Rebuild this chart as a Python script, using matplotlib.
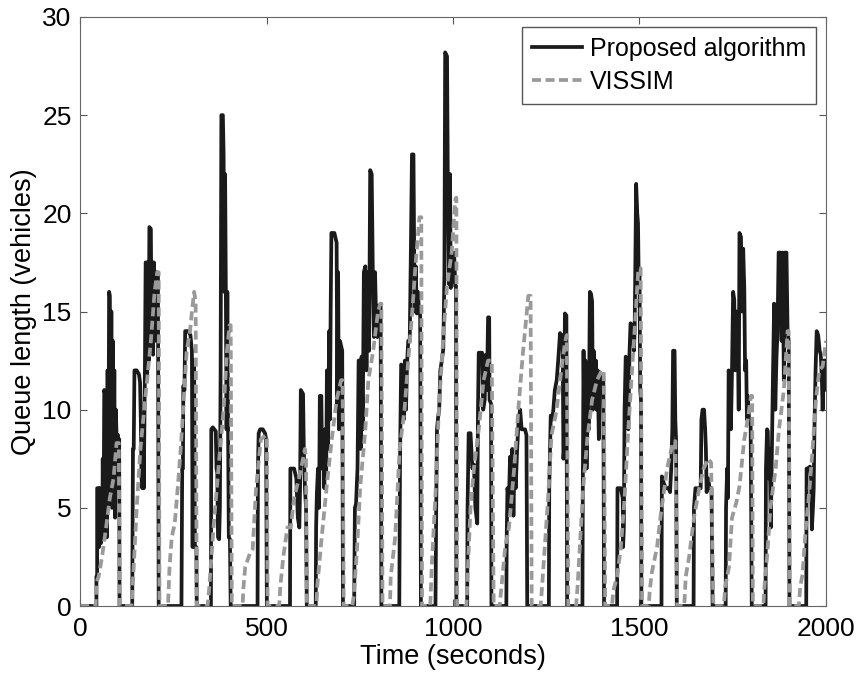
import matplotlib
matplotlib.use("Agg")
import matplotlib.pyplot as plt

# (time in s, queue in vehicles)
proposed = [
    (0, 0), (44, 0), (44, 1.5), (46, 1.5), (46, 6), (50, 6), (51, 3), (53, 6), (55, 5.8), (56, 3.2), (58, 5), (60, 4.5),
    (61, 7.5), (63, 3.5), (65, 11), (67, 10.8), (68, 4), (70, 9), (72, 3.5), (74, 12), (76, 5), (78, 16), (80, 15.8),
    (82, 6), (84, 15), (86, 5), (88, 13.5), (90, 7), (92, 12), (94, 4.5), (96, 10), (98, 8.7), (102, 8.7), (104, 6),
    (105, 8.5), (106, 0),
    (140, 0), (142, 8), (144, 8), (146, 12), (152, 12), (158, 11.8), (161, 11.4), (163, 9.5), (165, 6.5), (167, 6),
    (169, 9), (171, 6), (174, 12), (176, 17.5), (178, 17.5), (180, 11.5), (182, 17.5), (184, 12.5), (186, 19.3),
    (190, 19.2), (192, 13), (194, 17.5), (196, 12.8), (198, 17.5), (200, 13.5), (202, 17), (206, 17), (209, 16.8), (211, 0),
    (272, 0), (274, 7), (276, 7), (277, 11.2), (280, 11), (282, 14), (290, 14), (296, 13.8), (300, 13), (302, 3),
    (304, 12.5), (306, 12.3), (308, 3), (312, 3), (313, 0),
    (351, 0), (352, 9), (356, 9.1), (364, 8.9), (366, 7), (368, 6.8), (370, 3.5), (373, 3.4), (375, 5), (377, 12),
    (379, 25), (383, 25), (385, 23), (387, 16), (389, 22), (391, 16), (393, 9), (395, 16), (397, 9), (399, 3.5),
    (402, 3.4), (404, 0),
    (476, 0), (477, 7), (479, 8.8), (483, 9), (490, 9), (496, 8.8), (499, 8.5), (501, 0),
    (563, 0), (564, 7), (574, 7), (580, 6.5), (584, 4.5), (588, 4), (590, 6), (592, 11), (598, 10.8), (600, 8),
    (603, 6), (606, 5), (608, 0),
    (632, 0), (633, 4), (635, 5.7), (638, 7), (641, 5), (643, 10.7), (647, 10.7), (649, 7), (652, 8.7), (655, 6),
    (657, 9), (660, 6.8), (662, 12), (665, 8), (668, 14), (670, 9.5), (672, 15), (674, 19), (682, 19), (688, 18.5),
    (690, 10), (692, 17), (694, 9), (697, 13.5), (703, 13), (705, 0),
    (735, 0), (737, 5), (740, 5.2), (744, 7), (747, 12.5), (751, 12.5), (753, 8), (755, 12.7), (758, 9), (761, 17),
    (765, 17.3), (768, 12), (771, 17), (775, 13), (778, 22.2), (782, 22), (785, 17), (788, 13.7), (791, 17),
    (794, 14.5), (797, 13.7), (800, 15.3), (806, 15.3), (808, 0),
    (856, 0), (858, 7.5), (861, 12.3), (865, 12.2), (868, 9.5), (871, 12.5), (874, 10), (877, 12.4), (880, 13.5),
    (884, 13.5), (887, 18), (890, 23), (894, 23), (897, 15), (900, 17.3), (903, 14.9), (906, 16), (909, 15),
    (912, 14.8), (914, 0),
    (953, 0), (955, 5), (957, 9), (960, 9.6), (963, 10), (966, 12), (970, 12.5), (974, 13.1), (977, 17), (979, 28.2),
    (984, 28), (986, 22), (989, 16.4), (992, 22), (994, 16.2), (997, 18), (1000, 16.5), (1003, 18), (1006, 16.3),
    (1008, 16.3), (1009, 0),
    (1038, 0), (1039, 5), (1042, 8.8), (1047, 8.8), (1052, 7), (1056, 7.2), (1060, 5), (1065, 4.2), (1067, 10),
    (1069, 12.9), (1078, 12.9), (1081, 10), (1085, 10.5), (1088, 12.8), (1091, 11), (1094, 14.7), (1097, 14.7),
    (1098, 10.5), (1102, 10.3), (1103, 0),
    (1143, 0), (1144, 3.5), (1146, 6), (1150, 5.5), (1153, 7.6), (1156, 5), (1159, 8), (1162, 4.6), (1165, 7.5),
    (1168, 6), (1172, 8), (1176, 9.5), (1180, 10), (1184, 9), (1193, 9), (1197, 8.7), (1199, 0),
    (1257, 0), (1258, 6), (1262, 9.7), (1266, 9.5), (1269, 10), (1273, 11), (1278, 11.5), (1282, 12.5), (1287, 13.9),
    (1291, 13.5), (1294, 13.8), (1296, 7.5), (1298, 8), (1300, 14.9), (1304, 14.8), (1306, 0),
    (1347, 0), (1348, 6), (1350, 13), (1352, 9), (1355, 12.5), (1358, 7), (1361, 10), (1364, 9), (1367, 16),
    (1370, 15.9), (1373, 15.5), (1375, 10), (1377, 13), (1380, 11.5), (1383, 12.5), (1385, 10), (1388, 12),
    (1391, 8.5), (1394, 11.9), (1400, 11.7), (1403, 11.7), (1405, 0),
    (1440, 0), (1441, 6), (1450, 6), (1455, 5.5), (1456, 3), (1458, 4), (1460, 10), (1463, 12.7), (1467, 12.5),
    (1470, 9), (1473, 12.8), (1476, 14.4), (1481, 14.3), (1485, 13), (1487, 14), (1489, 18), (1491, 21.5), (1494, 20),
    (1496, 19.5), (1498, 16.4), (1500, 17), (1502, 11), (1504, 10.5), (1505, 0),
    (1559, 0), (1560, 6.6), (1566, 6.2), (1572, 6), (1578, 6), (1582, 5.8), (1585, 7), (1588, 9), (1590, 13),
    (1594, 13), (1596, 9.5), (1598, 8.5), (1600, 0),
    (1645, 0), (1646, 5), (1650, 6), (1664, 6), (1666, 9.5), (1669, 10), (1673, 10), (1676, 9), (1678, 8),
    (1680, 5.8), (1684, 6.5), (1688, 6), (1693, 6), (1696, 0),
    (1731, 0), (1732, 5), (1735, 7), (1737, 5.5), (1739, 12), (1742, 11.5), (1745, 9), (1748, 12), (1751, 16),
    (1754, 15.6), (1757, 12), (1760, 15), (1763, 14.5), (1766, 10), (1768, 19), (1772, 18.8), (1775, 15),
    (1778, 18.2), (1781, 16.1), (1783, 12), (1786, 12.5), (1788, 9.5), (1790, 10.7), (1794, 9.5), (1798, 9.2), (1801, 0),
    (1838, 0), (1839, 7), (1842, 9), (1844, 8.9), (1846, 6.5), (1849, 8), (1852, 4), (1855, 8), (1858, 12),
    (1861, 15.4), (1864, 10), (1867, 12.5), (1870, 14), (1873, 18), (1878, 18), (1881, 13.5), (1884, 18),
    (1887, 11.5), (1890, 18), (1894, 18), (1897, 14), (1900, 13.5), (1902, 0),
    (1947, 0), (1948, 7), (1952, 7), (1957, 7.1), (1960, 6.5), (1962, 3.9), (1965, 5), (1967, 6), (1969, 9),
    (1972, 12), (1975, 14), (1979, 13.8), (1983, 13), (1986, 12.8), (1989, 11.5), (1991, 10), (1994, 12.5),
    (1997, 11), (2000, 12.5),
]

vissim = [
    (0, 0), (42, 0), (44, 1.2), (50, 1.5), (59, 2.5), (70, 4), (80, 5.5), (90, 6.5), (98, 8.3), (104, 8.3), (106, 0),
    (138, 0), (144, 2), (152, 5), (162, 8), (172, 10), (180, 11.5), (190, 13.5), (200, 16), (207, 17), (211, 17), (213, 0),
    (236, 0), (240, 2), (246, 3.5), (254, 4.2), (262, 6), (270, 8), (278, 10.5), (286, 13), (295, 14), (300, 15),
    (306, 16), (310, 15.5), (313, 0),
    (342, 0), (346, 0.8), (358, 4), (372, 7.2), (385, 10), (394, 13), (401, 14.3), (404, 14.3), (407, 0),
    (436, 0), (438, 0.9), (443, 2), (456, 2.7), (463, 2.9), (472, 6), (485, 8.5), (499, 8.7), (501, 8.5), (503, 0),
    (534, 0), (537, 1), (545, 2.5), (556, 4), (565, 4), (574, 5.5), (587, 6.5), (598, 7.5), (603, 8), (606, 7.5), (608, 0),
    (634, 0), (636, 1), (648, 3.5), (662, 6.2), (675, 8.5), (688, 10.5), (700, 11.5), (704, 11.5), (707, 0),
    (730, 0), (734, 0.5), (743, 3), (751, 6), (765, 9), (773, 11.5), (786, 13), (799, 15), (805, 15.4), (808, 15.4), (811, 0),
    (831, 0), (833, 1.5), (845, 3.5), (857, 8), (870, 10), (880, 12.5), (890, 14.8), (900, 17.5), (910, 19.8),
    (915, 19.8), (917, 0),
    (939, 0), (943, 2), (953, 5.7), (962, 10), (975, 14), (984, 16.3), (997, 18.1), (1006, 20.7), (1009, 20.8), (1011, 0),
    (1036, 0), (1040, 2), (1047, 5), (1056, 7), (1069, 9), (1082, 11.5), (1094, 12.5), (1104, 12.5), (1109, 0),
    (1125, 0), (1130, 1), (1140, 3), (1150, 4), (1164, 7), (1175, 10), (1188, 13), (1202, 15.8), (1208, 15.8), (1211, 0),
    (1235, 0), (1237, 0.5), (1246, 3), (1255, 5.5), (1264, 8.7), (1278, 10), (1287, 11.5), (1300, 13.4), (1305, 13.8), (1309, 0),
    (1330, 0), (1334, 1), (1343, 4), (1349, 6), (1360, 8.5), (1373, 10.5), (1386, 11.5), (1399, 12), (1404, 12), (1408, 0),
    (1426, 0), (1430, 0.8), (1440, 1.5), (1450, 3), (1460, 5.5), (1470, 9), (1480, 12), (1490, 15), (1497, 17.2),
    (1503, 17.2), (1507, 0),
    (1525, 0), (1527, 0.7), (1533, 1.7), (1547, 3), (1556, 4.5), (1574, 7), (1588, 8.2), (1596, 8.4), (1601, 0),
    (1620, 0), (1624, 1.5), (1633, 2.5), (1646, 4.5), (1660, 6), (1672, 7), (1684, 7.5), (1692, 7.3), (1698, 0),
    (1726, 0), (1730, 1), (1740, 2), (1748, 4.5), (1760, 5.3), (1768, 6.1), (1781, 8.5), (1790, 9.5), (1799, 10.7),
    (1802, 10.7), (1804, 0),
    (1832, 0), (1835, 1), (1842, 2.5), (1851, 5), (1865, 7), (1874, 9), (1887, 11), (1897, 14), (1900, 14), (1903, 0),
    (1927, 0), (1931, 1), (1937, 1.6), (1946, 4), (1956, 6), (1964, 8), (1973, 10.5), (1982, 12), (1991, 12.2), (2000, 13.5),
]

x_ticks = [0, 500, 1000, 1500, 2000]
y_ticks = [0, 5, 10, 15, 20, 25, 30]

plt.rcParams['font.family'] = ['Liberation Sans', 'DejaVu Sans']

fig = plt.figure(figsize=(8.57, 6.75), dpi=100)
ax = fig.add_axes([80 / 857, 69 / 675, 746 / 857, 589 / 675])

t, q = zip(*proposed)
ax.plot(t, q, color='#1a1a1a', lw=2.7, label='Proposed algorithm')
t, q = zip(*vissim)
ax.plot(t, q, color='#9a9a9a', lw=2.7, ls=(0, (2.4, 1.2)), label='VISSIM')

ax.set_xlim(0, 2000)
ax.set_ylim(0, 30)
ax.set_xticks(x_ticks)
ax.set_yticks(y_ticks)
ax.tick_params(direction='in', top=True, right=True, length=5, width=0.8,
               labelsize=19, color='#555555', pad=6)
ax.tick_params(axis='x', pad=8)
for s in ax.spines.values():
    s.set_color('#666666')
    s.set_linewidth(0.8)

ax.set_xlabel('Time (seconds)', fontsize=19.5, labelpad=2)
ax.set_ylabel('Queue length (vehicles)', fontsize=19.5, labelpad=4)
ax.legend(loc='upper right', fontsize=18, fancybox=False, framealpha=1,
          edgecolor='#555555', borderaxespad=0.4, handlelength=2.0,
          handletextpad=0.3, borderpad=0.4, labelspacing=0.35)

fig.savefig('out.png', dpi=100)
